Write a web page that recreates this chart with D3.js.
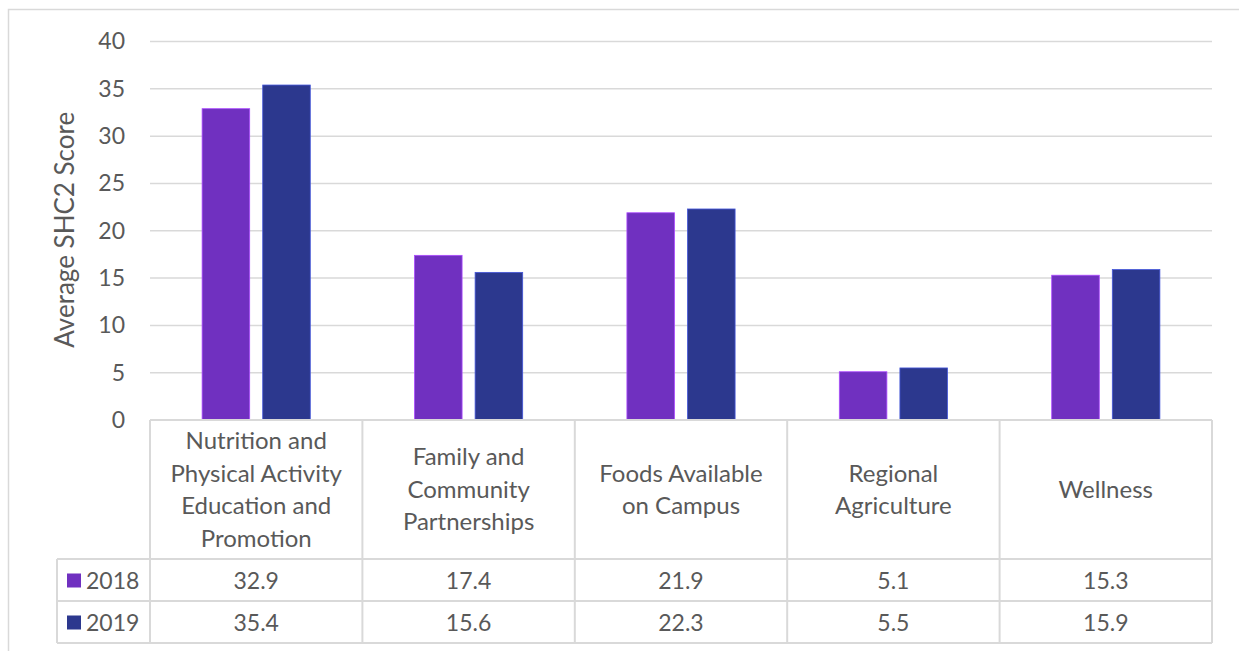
<!DOCTYPE html>
<html>
<head>
<meta charset="utf-8">
<script src="https://cdn.jsdelivr.net/npm/d3@7"></script>
<style>
  html, body { margin: 0; padding: 0; background: #fff; }
  svg { display: block; }
  text { font-family: Lato, "Open Sans", sans-serif; fill: #595959; }
</style>
</head>
<body>
<script>
const categories = [
  ["Nutrition and", "Physical Activity", "Education and", "Promotion"],
  ["Family and", "Community", "Partnerships"],
  ["Foods Available", "on Campus"],
  ["Regional", "Agriculture"],
  ["Wellness"]
];
const seriesNames = ["2018", "2019"];
const values2018 = [32.9, 17.4, 21.9, 5.1, 15.3];
const values2019 = [35.4, 15.6, 22.3, 5.5, 15.9];
const yTicks = [0, 5, 10, 15, 20, 25, 30, 35, 40];
const colors = ["#7030C0", "#2C388E"];
const axisTitle = "Average SHC2 Score";

const W = 1239, H = 651;
const svg = d3.select("body").append("svg").attr("width", W).attr("height", H);

// outer frame
svg.append("path").attr("d", `M8.5,${H} L8.5,9.5 L${W},9.5`)
  .attr("fill", "none").attr("stroke", "#D9D9D9").attr("stroke-width", 1.5);

const pLeft = 150, pRight = 1212, pTop = 41.5, pBottom = 420;
const x = d3.scaleBand().domain(d3.range(categories.length)).range([pLeft, pRight]);
const y = d3.scaleLinear().domain([0, 40]).range([pBottom, pTop]);
const series = [values2018, values2019];
const xs = d3.scaleBand().domain([0, 1]).range([0, x.bandwidth()]).paddingOuter(0.86).paddingInner(0.215);

// gridlines
svg.append("g").selectAll("line").data(yTicks.filter(t => t > 0)).join("line")
  .attr("x1", pLeft).attr("x2", pRight)
  .attr("y1", d => y(d)).attr("y2", d => y(d))
  .attr("stroke", "#D9D9D9").attr("stroke-width", 1.5);

// y tick labels
const yAxis = d3.axisLeft(y).tickValues(yTicks).tickSize(0).tickPadding(0);
const gy = svg.append("g").attr("transform", "translate(125,0)").call(yAxis);
gy.select(".domain").remove();
gy.selectAll("text").style("font-size", "23px").attr("fill", "#595959")
  .style("font-family", "Lato, sans-serif");

// axis title
svg.append("text")
  .attr("transform", `translate(74,${(pTop + pBottom) / 2 - 1}) rotate(-90)`)
  .attr("text-anchor", "middle")
  .style("font-size", "26px")
  .text(axisTitle);

// bars
series.forEach((vals, si) => {
  svg.append("g").selectAll("rect").data(vals).join("rect")
    .attr("x", (d, i) => x(i) + xs(si))
    .attr("width", xs.bandwidth())
    .attr("y", d => y(d))
    .attr("height", d => y(0) - y(d))
    .attr("fill", colors[si])
    .attr("stroke", d3.color(colors[si]).brighter(1.2))
    .attr("stroke-width", 0.8);
});

// data table
const tableLeft = 57;
const rowTop = [420, 559, 601];
const rowBottom = 643;
const lineColor = "#D9D9D9";
const tg = svg.append("g");
tg.append("line").attr("x1", pLeft).attr("x2", pRight).attr("y1", rowTop[0]).attr("y2", rowTop[0])
  .attr("stroke", lineColor).attr("stroke-width", 2);
[rowTop[1], rowTop[2], rowBottom].forEach(yy => {
  tg.append("line").attr("x1", tableLeft).attr("x2", pRight).attr("y1", yy).attr("y2", yy)
    .attr("stroke", lineColor).attr("stroke-width", 2);
});
tg.append("line").attr("x1", tableLeft).attr("x2", tableLeft).attr("y1", rowTop[1]).attr("y2", rowBottom)
  .attr("stroke", lineColor).attr("stroke-width", 2);
d3.range(categories.length + 1).forEach(i => {
  const xx = i < categories.length ? x(i) : pRight;
  tg.append("line").attr("x1", xx).attr("x2", xx).attr("y1", rowTop[0]).attr("y2", rowBottom)
    .attr("stroke", lineColor).attr("stroke-width", 2);
});

// category labels
const lineH = 32.5;
const catMid = (rowTop[0] + rowTop[1]) / 2;
categories.forEach((lines, i) => {
  const t = tg.append("text")
    .attr("text-anchor", "middle")
    .style("font-size", "24px");
  lines.forEach((ln, j) => {
    t.append("tspan")
      .attr("x", x(i) + x.bandwidth() / 2)
      .attr("y", catMid + (j - (lines.length - 1) / 2) * lineH)
      .attr("dy", "0.35em")
      .text(ln);
  });
});

// value rows + legend keys
series.forEach((vals, si) => {
  const cy = (rowTop[si + 1] + (si === 0 ? rowTop[2] : rowBottom)) / 2 + 1;
  tg.append("rect").attr("x", 67).attr("y", cy - 7.5).attr("width", 14).attr("height", 14)
    .attr("fill", colors[si]);
  tg.append("text").attr("x", 86).attr("y", cy).attr("dy", "0.35em")
    .style("font-size", "23px").text(seriesNames[si]);
  vals.forEach((v, i) => {
    tg.append("text").attr("x", x(i) + x.bandwidth() / 2).attr("y", cy).attr("dy", "0.35em")
      .attr("text-anchor", "middle").style("font-size", "23px").text(v.toFixed(1));
  });
});
</script>
</body>
</html>
